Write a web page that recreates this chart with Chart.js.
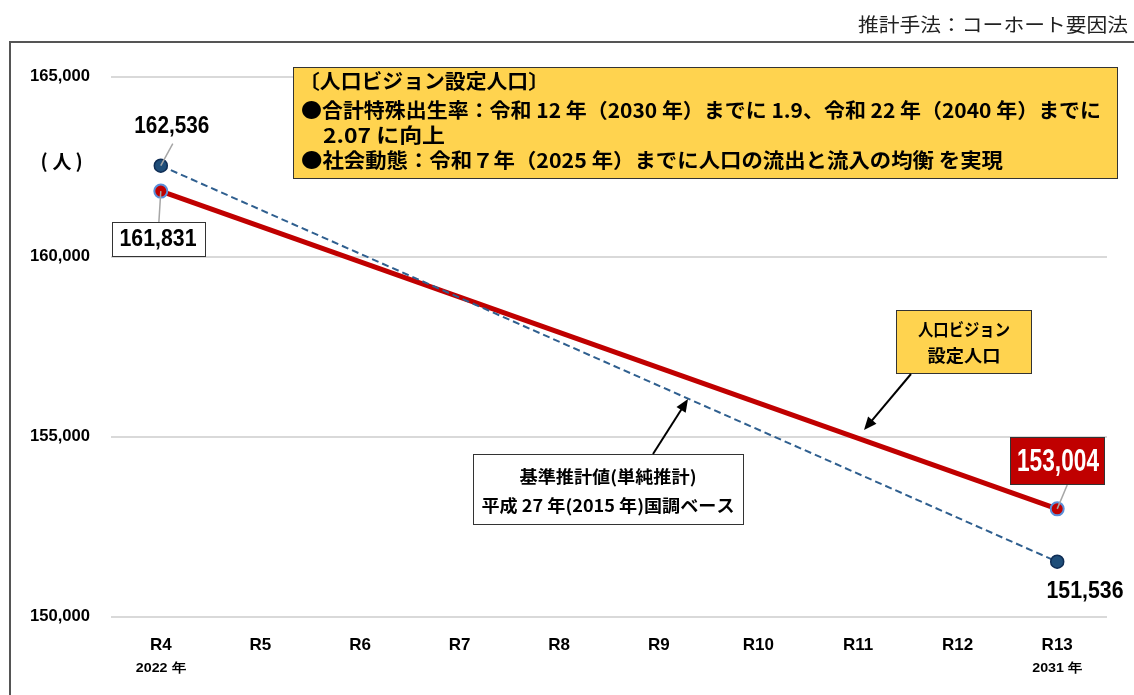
<!DOCTYPE html>
<html>
<head>
    <meta charset="utf-8">
    <title>人口ビジョン設定人口</title>
    <script src="https://cdn.jsdelivr.net/npm/chart.js"></script>
    <style>
        body { margin: 0; background: #fff; }
        #wrap { position: relative; width: 1134px; height: 695px; }
    </style>
</head>
<body>
    <div id="wrap">
        <canvas id="chart" width="1134" height="695"></canvas>
    </div>

    <script>
        // Data
        const labels = ['R4', 'R5', 'R6', 'R7', 'R8', 'R9', 'R10', 'R11', 'R12', 'R13'];
        const yearLabels = ['2022 年', '', '', '', '', '', '', '', '', '2031 年'];
        const visionPop = [161831, null, null, null, null, null, null, null, null, 153004];
        const basePop = [162536, null, null, null, null, null, null, null, null, 151536];
        const yTicks = [150000, 155000, 160000, 165000];

        const JP = "'Noto Sans CJK JP', sans-serif";
        const NUM = "'Liberation Sans', Arial, sans-serif";
        const fmt = v => v.toLocaleString('en-US');

        // draw text squeezed/stretched horizontally to a given width
        function fitText(ctx, text, x, y, w, align) {
            const m = ctx.measureText(text).width;
            const k = w / m;
            let left = x;
            if (align === 'center') left = x - w / 2;
            if (align === 'right') left = x - w;
            ctx.save();
            ctx.textAlign = 'left';
            ctx.translate(left, y);
            ctx.scale(k, 1);
            ctx.fillText(text, 0, 0);
            ctx.restore();
        }

        function arrow(ctx, x1, y1, x2, y2) {
            const a = Math.atan2(y2 - y1, x2 - x1);
            const h = 14;
            ctx.save();
            ctx.strokeStyle = '#000';
            ctx.fillStyle = '#000';
            ctx.lineWidth = 2;
            ctx.beginPath();
            ctx.moveTo(x1, y1);
            ctx.lineTo(x2 - Math.cos(a) * h * 0.8, y2 - Math.sin(a) * h * 0.8);
            ctx.stroke();
            ctx.beginPath();
            ctx.moveTo(x2, y2);
            ctx.lineTo(x2 - h * Math.cos(a - 0.4), y2 - h * Math.sin(a - 0.4));
            ctx.lineTo(x2 - h * Math.cos(a + 0.4), y2 - h * Math.sin(a + 0.4));
            ctx.closePath();
            ctx.fill();
            ctx.restore();
        }

        function box(ctx, x, y, w, h, fill, stroke) {
            ctx.save();
            ctx.fillStyle = fill;
            ctx.fillRect(x, y, w, h);
            ctx.strokeStyle = stroke;
            ctx.lineWidth = 1;
            ctx.strokeRect(x + 0.5, y + 0.5, w, h);
            ctx.restore();
        }

        function leader(ctx, x1, y1, x2, y2) {
            ctx.save();
            ctx.strokeStyle = '#a6a6a6';
            ctx.lineWidth = 1.5;
            ctx.beginPath();
            ctx.moveTo(x1, y1);
            ctx.lineTo(x2, y2);
            ctx.stroke();
            ctx.restore();
        }

        // Frame, annotations, labels
        const decor = {
            id: 'decor',
            beforeDraw(chart) {
                const ctx = chart.ctx;
                ctx.save();
                ctx.strokeStyle = '#555';
                ctx.lineWidth = 2;
                ctx.beginPath();
                ctx.moveTo(10, 695);
                ctx.lineTo(10, 42);
                ctx.lineTo(1134, 42);
                ctx.stroke();

                ctx.fillStyle = '#222';
                ctx.font = '19px ' + JP;
                ctx.textBaseline = 'middle';
                fitText(ctx, '推計手法：コーホート要因法', 1128, 25, 270, 'right');

                // unit label （人）
                ctx.fillStyle = '#000';
                ctx.font = 'bold 19px ' + JP;
                ctx.textAlign = 'center';
                ctx.fillText('人', 62, 162);
                ctx.fillText('(', 44, 161);
                ctx.fillText(')', 79, 161);
                ctx.restore();
            },
            afterDraw(chart) {
                // y tick labels, narrow bold
                const ctx = chart.ctx;
                const y = chart.scales.y;
                ctx.save();
                ctx.textBaseline = 'middle';
                ctx.fillStyle = '#000';
                ctx.font = 'bold 16px ' + NUM;
                yTicks.forEach(v => fitText(ctx, fmt(v), 90, y.getPixelForValue(v), 60, 'right'));
                ctx.restore();
            },
            afterDatasetsDraw(chart) {
                const ctx = chart.ctx;
                const x = chart.scales.x;
                ctx.save();
                ctx.textBaseline = 'middle';

                // year sub labels
                ctx.fillStyle = '#000';
                ctx.font = 'bold 13px ' + NUM;
                yearLabels.forEach((t, i) => {
                    if (t) fitText(ctx, t, x.getPixelForValue(i), 668, 50, 'center');
                });

                // data labels
                const base = chart.getDatasetMeta(1).data;
                const vis = chart.getDatasetMeta(0).data;
                const b0 = base[0], v0 = vis[0], v9 = vis[9];

                leader(ctx, b0.x, b0.y, b0.x + 12, b0.y - 22);
                ctx.font = 'bold 23px ' + NUM;
                ctx.fillStyle = '#000';
                fitText(ctx, fmt(basePop[0]), b0.x + 11, 127, 75, 'center');

                leader(ctx, v0.x, v0.y, v0.x - 2, 223);
                box(ctx, 112, 222, 93, 34, '#fff', '#333');
                ctx.fillStyle = '#000';
                fitText(ctx, fmt(visionPop[0]), 158, 240, 77, 'center');

                leader(ctx, v9.x, v9.y, v9.x + 10, 485);
                box(ctx, 1010, 437, 94, 47, '#c00000', '#333');
                ctx.font = 'bold 31px ' + NUM;
                ctx.fillStyle = '#fff';
                fitText(ctx, fmt(visionPop[9]), 1058, 462, 82, 'center');

                ctx.font = 'bold 23px ' + NUM;
                ctx.fillStyle = '#000';
                fitText(ctx, fmt(basePop[9]), 1085, 592, 77, 'center');

                // big yellow note
                box(ctx, 293, 67, 824, 111, '#ffd34f', '#333');
                ctx.font = 'bold 20px ' + JP;
                ctx.fillStyle = '#000';
                fitText(ctx, '〔人口ビジョン設定人口〕', 299, 81, 250, 'left');
                fitText(ctx, '●合計特殊出生率：令和 12 年（2030 年）までに 1.9、令和 22 年（2040 年）までに', 301, 110, 800, 'left');
                fitText(ctx, '2.07 に向上', 323, 135, 122, 'left');
                fitText(ctx, '●社会動態：令和７年（2025 年）までに人口の流出と流入の均衡 を実現', 301, 160, 702, 'left');

                // callout for vision line
                box(ctx, 896, 310, 135, 63, '#ffd34f', '#333');
                ctx.font = 'bold 17px ' + JP;
                fitText(ctx, '人口ビジョン', 964, 330, 92, 'center');
                fitText(ctx, '設定人口', 964, 356, 73, 'center');
                arrow(ctx, 911, 374, 864, 430);

                // callout for base line
                box(ctx, 473, 454, 270, 70, '#fff', '#333');
                ctx.fillStyle = '#000';
                ctx.font = 'bold 17px ' + JP;
                fitText(ctx, '基準推計値(単純推計)', 608, 477, 177, 'center');
                fitText(ctx, '平成 27 年(2015 年)国調ベース', 608, 506, 253, 'center');
                arrow(ctx, 653, 454, 688, 399);

                ctx.restore();
            }
        };

        const ctx = document.getElementById('chart').getContext('2d');
        const myChart = new Chart(ctx, {
            type: 'line',
            data: {
                labels: labels,
                datasets: [{
                    label: '人口ビジョン設定人口',
                    data: visionPop,
                    borderColor: '#c00000',
                    borderWidth: 5,
                    pointRadius: 6.5,
                    pointBackgroundColor: '#c00000',
                    pointBorderColor: '#5b8fd9',
                    pointBorderWidth: 2,
                    spanGaps: true,
                    order: 2
                }, {
                    label: '基準推計値',
                    data: basePop,
                    borderColor: '#2f5f8f',
                    borderWidth: 2,
                    borderDash: [7, 4],
                    pointRadius: 6.5,
                    pointBackgroundColor: '#1f4e79',
                    pointBorderColor: '#0f2d55',
                    pointBorderWidth: 1.5,
                    spanGaps: true,
                    order: 1
                }]
            },
            options: {
                responsive: false,
                animation: false,
                layout: { padding: { top: 77, right: 27, left: 0, bottom: 0 } },
                plugins: {
                    legend: { display: false },
                    tooltip: { enabled: false }
                },
                scales: {
                    x: {
                        offset: true,
                        grid: { display: false },
                        border: { display: false },
                        ticks: {
                            color: '#000',
                            padding: 10,
                            font: { family: NUM, size: 17, weight: 'bold' }
                        },
                        afterFit: s => { s.height = 78; }
                    },
                    y: {
                        min: 150000,
                        max: 165000,
                        afterBuildTicks: s => { s.ticks = yTicks.map(v => ({ value: v })); },
                        grid: { color: '#d9d9d9', lineWidth: 2, drawTicks: false },
                        border: { display: false },
                        ticks: {
                            display: false
                        },
                        afterFit: s => { s.width = 111; }
                    }
                }
            },
            plugins: [decor]
        });
    </script>
</body>
</html>
